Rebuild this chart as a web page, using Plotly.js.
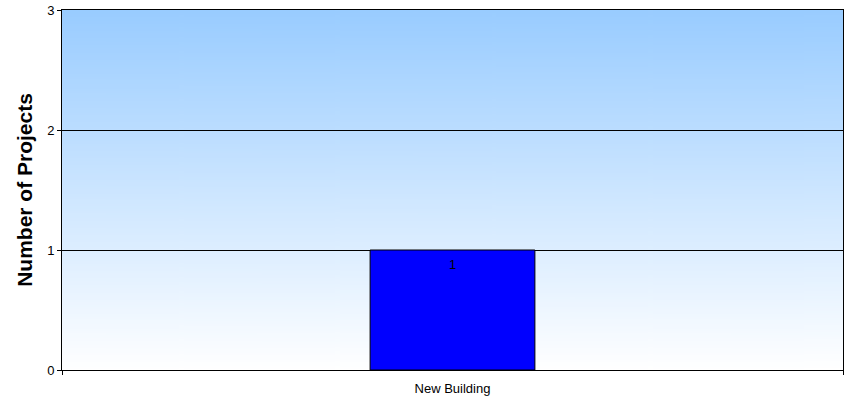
<!DOCTYPE html>
<html><head><meta charset="utf-8">
<script src="https://cdn.plot.ly/plotly-3.0.1.min.js"></script>
<style>body{margin:0;background:#fff}#chart{width:850px;height:401px}</style>
</head><body><div id="chart"></div>
<script>
const categories = ["New Building"];
const projects = [1];
const yTicks = [0, 1, 2, 3];

// background gradient image
const cv = document.createElement('canvas');
cv.width = 10; cv.height = 300;
const ctx = cv.getContext('2d');
const g = ctx.createLinearGradient(0, 0, 0, 300);
g.addColorStop(0, '#99ccff');
g.addColorStop(1, '#ffffff');
ctx.fillStyle = g; ctx.fillRect(0, 0, 10, 300);
const bgUrl = cv.toDataURL();

const labels = categories.map((c, i) => ({
  x: c, y: projects[i], xref: 'x', yref: 'y', text: String(projects[i]),
  showarrow: false, yanchor: 'top', yshift: -5,
  font: {family: 'Arial, Liberation Sans', size: 13, color: '#000'}
}));

Plotly.newPlot('chart', [{
  type: 'bar',
  x: categories,
  y: projects,
  width: 0.211,
  marker: {color: '#0000ff', line: {color: '#000000', width: 1}},
  hoverinfo: 'none'
}], {
  width: 850, height: 401,
  margin: {l: 62, r: 7, t: 10, b: 31},
  paper_bgcolor: '#ffffff',
  plot_bgcolor: 'rgba(0,0,0,0)',
  showlegend: false,
  font: {family: 'Arial, Liberation Sans', size: 13, color: '#000'},
  annotations: labels,
  images: [{source: bgUrl, xref: 'paper', yref: 'paper', x: 0, y: 1, sizex: 1, sizey: 1,
            sizing: 'stretch', layer: 'below'}],
  xaxis: {
    range: [-0.5, 0.5], showline: true, linecolor: '#000', linewidth: 1, mirror: true,
    ticks: 'outside', tickson: 'boundaries', ticklen: 4, tickcolor: '#000',
    showgrid: false, zeroline: false, tickfont: {size: 13}, ticklabelstandoff: 6
  },
  yaxis: {
    range: [0, 3], tickvals: yTicks, ticktext: yTicks.map(String),
    showline: true, linecolor: '#000', linewidth: 1, mirror: true,
    ticks: 'outside', ticklen: 4, tickcolor: '#000',
    showgrid: true, gridcolor: '#000', gridwidth: 1, zeroline: false,
    tickfont: {size: 13},
    title: {text: '<b>Number of Projects</b>', font: {size: 21}, standoff: 8}
  }
}, {staticPlot: true});
</script></body></html>
